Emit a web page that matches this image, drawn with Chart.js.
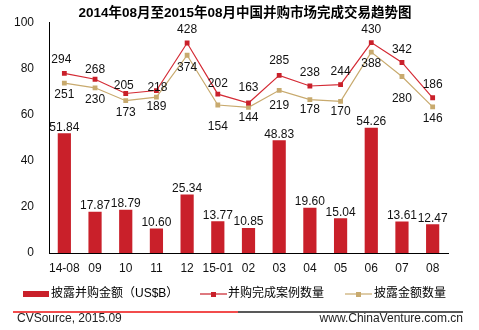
<!DOCTYPE html>
<html>
<head>
<meta charset="utf-8">
<script src="https://cdn.jsdelivr.net/npm/chart.js@4.4.0/dist/chart.umd.min.js"></script>
<style>
  html, body { margin: 0; padding: 0; background: #fff; }
  #wrap { width: 479px; height: 330px; position: relative; }
</style>
</head>
<body>
<div id="wrap"><canvas id="grafico" width="479" height="330"></canvas></div>
<script>
var meses = ["14-08", "09", "10", "11", "12", "15-01", "02", "03", "04", "05", "06", "07", "08"];
var montantes = [51.84, 17.87, 18.79, 10.60, 25.34, 13.77, 10.85, 48.83, 19.60, 15.04, 54.26, 13.61, 12.47];
var casos = [294, 268, 205, 218, 428, 202, 163, 285, 238, 244, 430, 342, 186];
var casosMontante = [251, 230, 173, 189, 374, 154, 144, 219, 178, 170, 388, 280, 146];
var ticksY = [0, 20, 40, 60, 80, 100];

var fonte = "'Liberation Sans', Arial, 'Noto Sans CJK SC', sans-serif";
var vermelho = '#c9202a';
var dourado = '#c8aa6e';

// pequenos ajustes de posicao dos rotulos (dataset -> indice -> dx,dy)
var ajustes = {
	1: { 0: [-3, -1], 3: [1, 10], 1: [0, 3], 2: [-2, 5], 5: [0, 3], 6: [0, -2], 7: [0, -2] },
	2: { 5: [0, 10], 11: [0, 10], 7: [0, 3], 3: [0, -2], 6: [0, -2], 8: [0, -2], 9: [0, -2] }
};

var rotulos = {
	id: 'rotulos',
	afterDatasetsDraw: (chart) => {
		let ctx = chart.ctx;
		ctx.save();
		ctx.font = "12px " + fonte;
		ctx.fillStyle = '#111';
		ctx.textAlign = 'center';
		chart.data.datasets.forEach((ds, d) => {
			let meta = chart.getDatasetMeta(d);
			meta.data.forEach((el, i) => {
				let txt = d === 0 ? ds.data[i].toFixed(2) : String(ds.data[i]);
				let aj = (ajustes[d] && ajustes[d][i]) || [0, 0];
				let y;
				if (d === 0) {
					ctx.textBaseline = 'bottom';
					y = el.y - 0;
				} else if (d === 1) {
					ctx.textBaseline = 'middle';
					y = el.y - 13;
				} else {
					ctx.textBaseline = 'middle';
					y = el.y + 12;
				}
				ctx.fillText(txt, el.x + aj[0], y + aj[1]);
			});
		});
		ctx.restore();
	}
};

var extras = {
	id: 'extras',
	afterDraw: (chart) => {
		let ctx = chart.ctx;
		ctx.save();
		// titulo
		ctx.font = "bold 13.5px " + fonte;
		ctx.fillStyle = '#000';
		ctx.textAlign = 'center';
		ctx.textBaseline = 'middle';
		ctx.fillText("2014年08月至2015年08月中国并购市场完成交易趋势图", 245, 13);

		// legenda
		ctx.font = "12px " + fonte;
		ctx.textAlign = 'left';
		ctx.fillStyle = vermelho;
		ctx.fillRect(23, 291, 26, 6);
		ctx.fillStyle = '#000';
		ctx.fillText("披露并购金额（US$B）", 51, 294);

		ctx.strokeStyle = vermelho;
		ctx.lineWidth = 1.2;
		ctx.beginPath(); ctx.moveTo(200, 294); ctx.lineTo(227, 294); ctx.stroke();
		ctx.fillStyle = vermelho;
		ctx.fillRect(211, 292, 5, 5);
		ctx.fillStyle = '#000';
		ctx.fillText("并购完成案例数量", 228, 294);

		ctx.strokeStyle = dourado;
		ctx.beginPath(); ctx.moveTo(345, 294); ctx.lineTo(372, 294); ctx.stroke();
		ctx.fillStyle = dourado;
		ctx.fillRect(356, 292, 5, 5);
		ctx.fillStyle = '#000';
		ctx.fillText("披露金额数量", 374, 294);

		// linha separadora
		ctx.lineWidth = 1.6;
		ctx.strokeStyle = '#ee1111';
		ctx.beginPath(); ctx.moveTo(13, 312); ctx.lineTo(238, 312); ctx.stroke();
		ctx.strokeStyle = '#222';
		ctx.beginPath(); ctx.moveTo(238, 312); ctx.lineTo(463, 312); ctx.stroke();

		// rodape
		ctx.fillStyle = '#222';
		ctx.fillText("CVSource, 2015.09", 17, 319);
		ctx.textAlign = 'right';
		ctx.fillText("www.ChinaVenture.com.cn", 463, 319);
		ctx.restore();
	}
};

var grafico = new Chart(document.getElementById("grafico"), {
	type: 'bar',
	data: {
		labels: meses,
		datasets: [{
			label: '披露并购金额（US$B）',
			data: montantes,
			backgroundColor: vermelho,
			categoryPercentage: 1,
			barPercentage: 0.43,
			yAxisID: 'y',
			order: 3
		}, {
			type: 'line',
			label: '并购完成案例数量',
			data: casos,
			borderColor: '#d42a34',
			backgroundColor: vermelho,
			borderWidth: 1.2,
			pointStyle: 'rect',
			pointRadius: 3.4,
			pointBorderWidth: 0,
			tension: 0,
			yAxisID: 'y2',
			order: 1
		}, {
			type: 'line',
			label: '披露金额数量',
			data: casosMontante,
			borderColor: dourado,
			backgroundColor: dourado,
			borderWidth: 1.2,
			pointStyle: 'rect',
			pointRadius: 3.4,
			pointBorderWidth: 0,
			tension: 0,
			yAxisID: 'y2',
			order: 2
		}]
	},
	options: {
		responsive: false,
		animation: false,
		layout: { padding: { left: 0, right: 31, top: 22, bottom: 47 } },
		plugins: {
			legend: { display: false },
			title: { display: false },
			tooltip: { enabled: false }
		},
		scales: {
			x: {
				grid: { display: false, drawTicks: false },
				border: { display: true, color: '#000', width: 1 },
				ticks: { color: '#111', font: { size: 12, family: fonte }, padding: 8, maxRotation: 0, autoSkip: false },
				afterFit: (s) => { s.height = 30; }
			},
			y: {
				min: 0,
				max: 100,
				afterBuildTicks: (s) => { s.ticks = ticksY.map(v => ({ value: v })); },
				grid: { display: false, drawTicks: false },
				border: { display: true, color: '#000', width: 1 },
				ticks: { color: '#111', font: { size: 12, family: fonte }, padding: 15 },
				afterFit: (s) => { s.width = 49; }
			},
			y2: {
				display: false,
				min: -500,
				max: 520
			}
		}
	},
	plugins: [rotulos, extras]
});
</script>
</body>
</html>
